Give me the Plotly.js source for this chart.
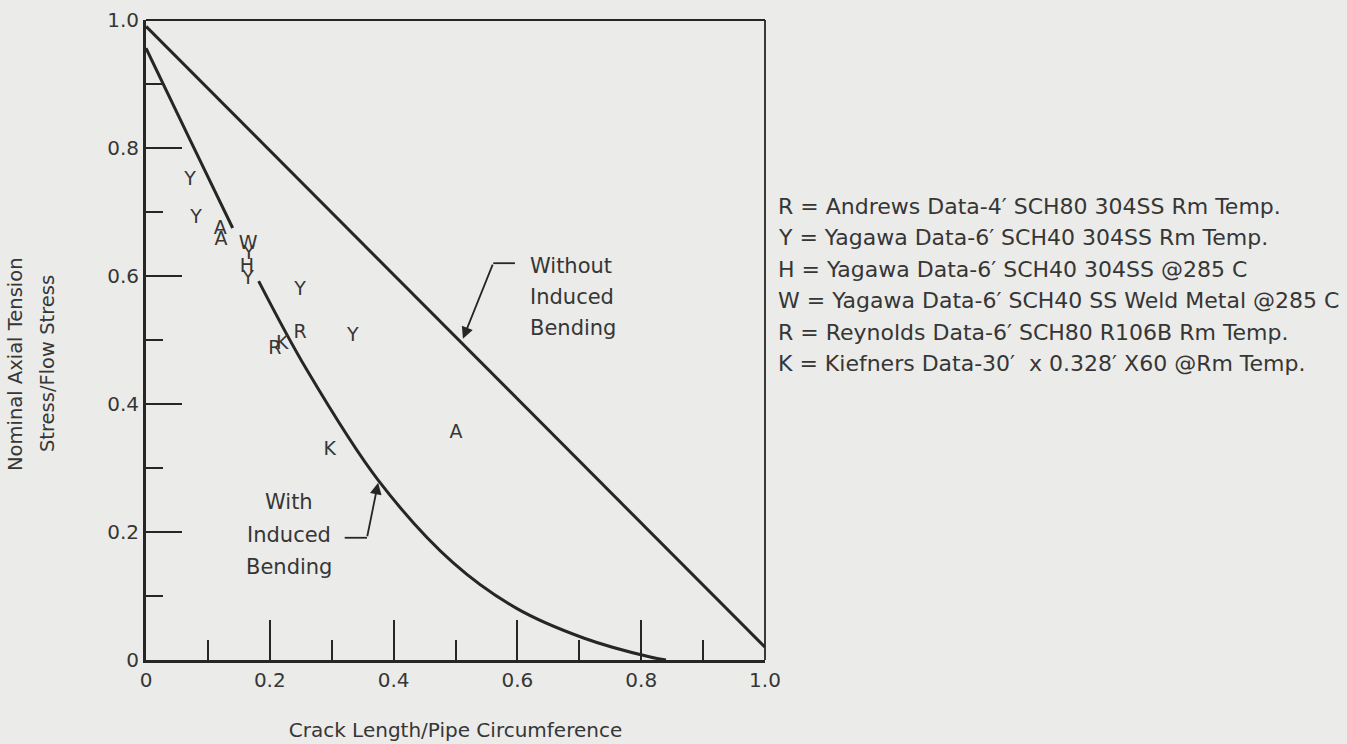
<!DOCTYPE html>
<html>
<head>
<meta charset="utf-8">
<script src="https://cdn.plot.ly/plotly-3.0.1.min.js"></script>
<style>
  html, body { margin: 0; padding: 0; background: #ebebe9; }
  #chart { width: 1347px; height: 744px; }
</style>
</head>
<body>
<div id="chart"></div>
<script>
// ---- data ----
const withoutBendingX = [0, 1.0];
const withoutBendingY = [0.99, 0.02];

const withBendingX = [0, 0.07, 0.14, null, 0.182, 0.26, 0.375, 0.496, 0.598, 0.708, 0.813, 0.84];
const withBendingY = [0.956, 0.815, 0.675, null, 0.592, 0.453, 0.281, 0.152, 0.081, 0.034, 0.005, 0.0];

// data letters
const andrewsX = [0.12, 0.121, 0.501];
const andrewsY = [0.673, 0.656, 0.355];
const yagawaX = [0.071, 0.081, 0.166, 0.165, 0.249, 0.334];
const yagawaY = [0.750, 0.691, 0.634, 0.595, 0.577, 0.506];
const yagawaHX = [0.163];
const yagawaHY = [0.614];
const yagawaWX = [0.165];
const yagawaWY = [0.650];
const reynoldsX = [0.249, 0.208];
const reynoldsY = [0.511, 0.486];
const kiefnerX = [0.22, 0.297];
const kiefnerY = [0.494, 0.327];

const xTickVals = [0, 0.2, 0.4, 0.6, 0.8, 1.0];
const xTickText = ['0', '0.2', '0.4', '0.6', '0.8', '1.0'];
const yTickVals = [0, 0.2, 0.4, 0.6, 0.8, 1.0];
const yTickText = ['0', '0.2', '0.4', '0.6', '0.8', '1.0'];

const xTitle = 'Crack Length/Pipe Circumference';
const yTitleLines = ['Nominal Axial Tension', 'Stress/Flow Stress'];
const withoutLabelLines = ['Without', 'Induced', 'Bending'];
const withLabelLines = ['With', 'Induced', 'Bending'];

const legendLines = [
  'R = Andrews Data-4′ SCH80 304SS Rm Temp.',
  'Y = Yagawa Data-6′ SCH40 304SS Rm Temp.',
  'H = Yagawa Data-6′ SCH40 304SS @285 C',
  'W = Yagawa Data-6′ SCH40 SS Weld Metal @285 C',
  'R = Reynolds Data-6′ SCH80 R106B Rm Temp.',
  'K = Kiefners Data-30′  x 0.328′ X60 @Rm Temp.'
];

const FONT = 'DejaVu Sans, Liberation Sans, Arial, sans-serif';
const INK = '#262626';
const TXT = '#363636';
const BG = '#ebebe9';

function letters(x, y, ch, name) {
  return {
    type: 'scatter', mode: 'text', x: x, y: y, name: name,
    text: x.map(() => ch), textposition: 'middle center',
    textfont: { family: FONT, size: 19, color: TXT },
    hoverinfo: 'x+y+name', showlegend: false, cliponaxis: false
  };
}

const traces = [
  { type: 'scatter', mode: 'lines', x: withoutBendingX, y: withoutBendingY,
    name: 'Without Induced Bending', line: { color: INK, width: 3 }, showlegend: false },
  { type: 'scatter', mode: 'lines', x: withBendingX, y: withBendingY,
    name: 'With Induced Bending', connectgaps: false,
    line: { color: INK, width: 3, shape: 'spline', smoothing: 1 }, showlegend: false },
  letters(andrewsX, andrewsY, 'A', 'Andrews'),
  letters(yagawaX, yagawaY, 'Y', 'Yagawa'),
  letters(yagawaHX, yagawaHY, 'H', 'Yagawa @285 C'),
  letters(yagawaWX, yagawaWY, 'W', 'Yagawa Weld Metal'),
  letters(reynoldsX, reynoldsY, 'R', 'Reynolds'),
  letters(kiefnerX, kiefnerY, 'K', 'Kiefners')
];

const annotations = [
  { x: 0.512, y: 0.502, xref: 'x', yref: 'y', ax: 0.561, ay: 0.620, axref: 'x', ayref: 'y',
    text: '', showarrow: true, arrowhead: 2, arrowsize: 1.3, arrowwidth: 1.8, arrowcolor: INK },
  { x: 0.375, y: 0.277, xref: 'x', yref: 'y', ax: 0.357, ay: 0.191, axref: 'x', ayref: 'y',
    text: '', showarrow: true, arrowhead: 2, arrowsize: 1.3, arrowwidth: 1.8, arrowcolor: INK }
];
withoutLabelLines.forEach((t, i) => {
  annotations.push({ x: 0.617, y: 0.6156 - i * 0.0484, xref: 'x', yref: 'y',
    xanchor: 'left', yanchor: 'middle', text: t, showarrow: false,
    font: { family: FONT, size: 21, color: TXT } });
});
withLabelLines.forEach((t, i) => {
  annotations.push({ x: 0.231, y: 0.247 - i * 0.051, xref: 'x', yref: 'y',
    xanchor: 'center', yanchor: 'middle', text: t, showarrow: false,
    font: { family: FONT, size: 21, color: TXT } });
});
yTitleLines.forEach((t, i) => {
  annotations.push({ x: -0.2116 + i * 0.0517, y: 0.4625, xref: 'paper', yref: 'paper',
    xanchor: 'center', yanchor: 'middle', textangle: -90, text: t, showarrow: false,
    font: { family: FONT, size: 19.5, color: TXT } });
});
legendLines.forEach((t, i) => {
  annotations.push({
    x: 1.018, y: 0.709 - i * 0.0492, xref: 'paper', yref: 'paper',
    xanchor: 'left', yanchor: 'middle', text: t, showarrow: false, align: 'left',
    font: { family: FONT, size: 22, color: TXT }
  });
});

const shapes = [
  // top and right frame lines
  { type: 'line', xref: 'paper', yref: 'paper', x0: 0, x1: 1, y0: 1, y1: 1, line: { color: INK, width: 1.8 } },
  { type: 'line', xref: 'paper', yref: 'paper', x0: 1, x1: 1, y0: 0, y1: 1, line: { color: INK, width: 1.8 } },
  // arrow leaders
  { type: 'line', xref: 'x', yref: 'y', x0: 0.561, x1: 0.596, y0: 0.620, y1: 0.620, line: { color: INK, width: 1.8 } },
  { type: 'line', xref: 'x', yref: 'y', x0: 0.321, x1: 0.357, y0: 0.191, y1: 0.191, line: { color: INK, width: 1.8 } }
];

const layout = {
  width: 1347, height: 744,
  paper_bgcolor: BG, plot_bgcolor: BG,
  margin: { l: 146, r: 582, t: 20, b: 84 },
  showlegend: false,
  font: { family: FONT, color: TXT },
  xaxis: {
    range: [0, 1.0], showgrid: false, zeroline: false,
    showline: true, linecolor: INK, linewidth: 3,
    ticks: 'inside', ticklen: 40, tickwidth: 2, tickcolor: INK,
    tickvals: xTickVals, ticktext: xTickText,
    tickfont: { family: FONT, size: 20, color: TXT },
    minor: { ticks: 'inside', ticklen: 20, tickwidth: 2, tickcolor: INK, dtick: 0.1, showgrid: false },
    title: { text: xTitle, font: { family: FONT, size: 20, color: TXT }, standoff: 32 },
    automargin: false
  },
  yaxis: {
    range: [0, 1.0], showgrid: false, zeroline: false,
    showline: true, linecolor: INK, linewidth: 3,
    ticks: 'inside', ticklen: 36, tickwidth: 2, tickcolor: INK,
    tickvals: yTickVals, ticktext: yTickText,
    tickfont: { family: FONT, size: 20, color: TXT },
    ticklabelstandoff: 0,
    minor: { ticks: 'inside', ticklen: 17, tickwidth: 2, tickcolor: INK, dtick: 0.1, showgrid: false },
    automargin: false
  },
  annotations: annotations,
  shapes: shapes
};

Plotly.newPlot('chart', traces, layout, { displayModeBar: false, staticPlot: true });
</script>
</body>
</html>
